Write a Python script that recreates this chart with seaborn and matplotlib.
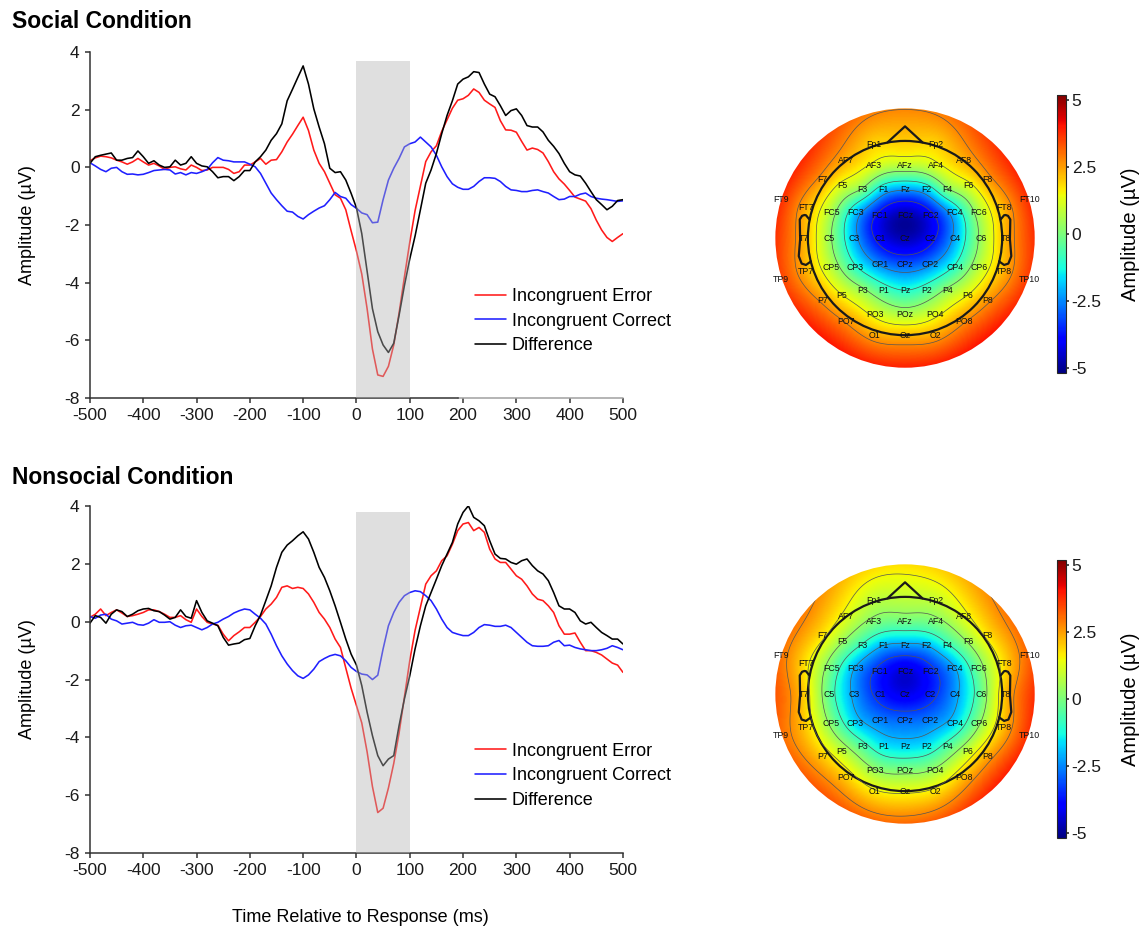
import numpy as np
import pandas as pd
import matplotlib
matplotlib.use('Agg')
import matplotlib.pyplot as plt
import seaborn as sns
from matplotlib.patches import Circle

# ---- ERP waveforms (uV), sampled every 10 ms from -500 to 500 ms ----
times = np.arange(-500, 501, 10)
conds = ['Incongruent Error', 'Incongruent Correct', 'Difference']

social_error = [0.23, 0.33, 0.39, 0.37, 0.33, 0.25, 0.19, 0.11, 0.19, 0.31,
                0.19, 0.08, 0.14, 0.05, -0.07, 0.0, 0.02, -0.05, -0.09, 0.08,
                0.0, -0.11, -0.09, 0.0, 0.0, 0.0, -0.07, -0.21, -0.15, 0.08,
                0.08, 0.19, 0.31, 0.11, 0.25, 0.27, 0.54, 0.88, 1.15, 1.45,
                1.74, 1.28, 0.6, 0.14, -0.15, -0.55, -0.95, -1.07, -1.47, -2.2,
                -2.9, -3.7, -4.9, -6.3, -7.2, -7.25, -6.9, -6.16, -5.05, -3.8,
                -2.6, -1.5, -0.65, 0.2, 0.54, 0.75, 1.25, 1.65, 2.05, 2.33,
                2.38, 2.5, 2.72, 2.6, 2.33, 2.2, 2.08, 1.62, 1.3, 1.29,
                1.22, 0.9, 0.6, 0.67, 0.62, 0.5, 0.2, -0.15, -0.4, -0.58,
                -0.8, -1.03, -1.1, -1.17, -1.43, -1.83, -2.17, -2.43, -2.57, -2.43,
                -2.3]
social_correct = [0.16, 0.05, -0.07, -0.15, -0.03, 0.0, -0.15, -0.24, -0.23, -0.26,
                  -0.24, -0.18, -0.11, -0.09, -0.07, -0.09, -0.23, -0.18, -0.26, -0.18,
                  -0.21, -0.15, -0.07, 0.16, 0.34, 0.25, 0.23, 0.19, 0.19, 0.19,
                  0.11, 0.02, -0.21, -0.55, -0.89, -1.12, -1.33, -1.52, -1.55, -1.7,
                  -1.79, -1.64, -1.52, -1.41, -1.33, -1.12, -0.87, -1.01, -1.07, -1.29,
                  -1.42, -1.58, -1.64, -1.92, -1.9, -1.12, -0.44, -0.03, 0.31, 0.71,
                  0.82, 0.88, 1.05, 0.88, 0.71, 0.42, 0.02, -0.32, -0.57, -0.69,
                  -0.76, -0.76, -0.66, -0.49, -0.36, -0.36, -0.38, -0.49, -0.66, -0.78,
                  -0.8, -0.84, -0.84, -0.8, -0.78, -0.84, -0.89, -1.01, -1.12, -1.1,
                  -1.01, -1.01, -0.93, -0.89, -1.01, -1.07, -1.1, -1.12, -1.15, -1.18,
                  -1.16]
social_diff = [0.14, 0.37, 0.42, 0.46, 0.5, 0.25, 0.25, 0.31, 0.34, 0.57,
               0.37, 0.14, 0.23, 0.08, 0.0, 0.02, 0.25, 0.08, 0.14, 0.37,
               0.14, 0.05, 0.02, -0.15, -0.36, -0.32, -0.32, -0.46, -0.32, -0.11,
               -0.11, 0.19, 0.37, 0.6, 0.94, 1.17, 1.51, 2.31, 2.71, 3.12,
               3.52, 2.89, 2.03, 1.4, 0.82, -0.03, -0.18, -0.15, -0.44, -0.9,
               -1.4, -2.3, -3.6, -4.9, -5.7, -6.16, -6.42, -6.1, -5.13, -4.1,
               -3.18, -2.38, -1.47, -0.55, -0.09, 0.48, 1.17, 1.8, 2.31, 2.89,
               3.06, 3.14, 3.32, 3.29, 2.89, 2.54, 2.45, 2.14, 1.8, 1.97,
               2.03, 1.8, 1.45, 1.4, 1.4, 1.23, 0.94, 0.73, 0.48, 0.14,
               -0.15, -0.26, -0.3, -0.55, -0.84, -1.12, -1.29, -1.47, -1.35, -1.15,
               -1.12]

nonsocial_error = [0.15, 0.26, 0.44, 0.21, 0.32, 0.41, 0.3, 0.18, 0.21, 0.26,
                   0.32, 0.41, 0.41, 0.35, 0.26, 0.15, 0.15, 0.21, 0.07, -0.02,
                   0.44, 0.18, -0.02, -0.08, -0.12, -0.43, -0.66, -0.48, -0.35, -0.2,
                   -0.2, -0.02, 0.18, 0.44, 0.61, 0.84, 1.19, 1.24, 1.15, 1.19,
                   1.15, 0.96, 0.67, 0.32, 0.09, -0.2, -0.6, -0.89, -1.6, -2.3,
                   -2.9, -3.5, -4.5, -5.7, -6.6, -6.45, -5.75, -4.9, -3.85, -2.6,
                   -1.35, -0.3, 0.5, 1.3, 1.59, 1.76, 2.11, 2.28, 2.68, 3.15,
                   3.38, 3.43, 3.15, 3.26, 3.09, 2.51, 2.17, 2.05, 2.05, 1.82,
                   1.59, 1.47, 1.24, 0.96, 0.78, 0.73, 0.55, 0.32, -0.14, -0.43,
                   -0.43, -0.39, -0.71, -1.0, -1.0, -1.06, -1.15, -1.29, -1.43, -1.5,
                   -1.75]
nonsocial_correct = [0.18, 0.12, 0.23, 0.26, 0.09, 0.03, -0.08, -0.05, -0.02, -0.1,
                     -0.12, -0.05, 0.07, -0.02, -0.02, 0.0, -0.12, -0.2, -0.14, -0.12,
                     -0.2, -0.28, -0.2, -0.08, -0.02, 0.09, 0.18, 0.3, 0.38, 0.44,
                     0.41, 0.26, 0.12, -0.08, -0.43, -0.83, -1.18, -1.46, -1.69, -1.87,
                     -1.96, -1.84, -1.64, -1.38, -1.27, -1.18, -1.13, -1.18, -1.35, -1.58,
                     -1.72, -1.81, -1.84, -2.0, -1.85, -0.94, -0.14, 0.32, 0.67, 0.9,
                     1.01, 1.07, 1.04, 0.9, 0.73, 0.44, 0.09, -0.2, -0.37, -0.43,
                     -0.48, -0.48, -0.37, -0.2, -0.1, -0.12, -0.16, -0.16, -0.12, -0.2,
                     -0.37, -0.54, -0.71, -0.83, -0.85, -0.85, -0.83, -0.71, -0.65, -0.83,
                     -0.81, -0.89, -0.94, -0.97, -1.0, -1.0, -0.97, -0.92, -0.83, -0.89,
                     -0.97]
nonsocial_diff = [-0.05, 0.21, 0.15, -0.05, 0.26, 0.41, 0.35, 0.18, 0.26, 0.38,
                  0.44, 0.46, 0.38, 0.35, 0.23, 0.09, 0.15, 0.41, 0.18, 0.12,
                  0.73, 0.32, 0.03, -0.05, -0.14, -0.54, -0.81, -0.77, -0.74, -0.62,
                  -0.58, -0.14, 0.23, 0.73, 1.24, 1.88, 2.4, 2.65, 2.8, 2.97,
                  3.11, 2.86, 2.4, 1.88, 1.53, 1.07, 0.55, -0.02, -0.6, -1.12,
                  -1.5, -2.21, -3.13, -3.94, -4.63, -4.98, -4.75, -4.63, -3.59, -2.67,
                  -1.87, -0.94, -0.14, 0.55, 1.01, 1.47, 1.94, 2.34, 2.74, 3.38,
                  3.78, 4.01, 3.61, 3.49, 3.32, 2.8, 2.34, 2.19, 2.17, 2.05,
                  1.99, 2.11, 2.17, 1.94, 1.76, 1.65, 1.42, 1.01, 0.55, 0.44,
                  0.44, 0.32, 0.03, -0.08, -0.02, -0.2, -0.37, -0.48, -0.6, -0.6,
                  -0.77]

# ---- scalp map values (uV) at each channel, 0-100 ms window ----
chan_names = ['Fp1', 'Fp2',
              'AF7', 'AF3', 'AFz', 'AF4', 'AF8',
              'F7', 'F5', 'F3', 'F1', 'Fz', 'F2', 'F4', 'F6', 'F8',
              'FT9', 'FT7', 'FC5', 'FC3', 'FC1', 'FCz', 'FC2', 'FC4', 'FC6', 'FT8', 'FT10',
              'T7', 'C5', 'C3', 'C1', 'Cz', 'C2', 'C4', 'C6', 'T8',
              'TP9', 'TP7', 'CP5', 'CP3', 'CP1', 'CPz', 'CP2', 'CP4', 'CP6', 'TP8', 'TP10',
              'P7', 'P5', 'P3', 'P1', 'Pz', 'P2', 'P4', 'P6', 'P8',
              'PO7', 'PO3', 'POz', 'PO4', 'PO8',
              'O1', 'Oz', 'O2']
social_topo = [1.9, 1.9,
               2.3, 1.3, 0.9, 1.3, 2.3,
               2.5, 1.2, 0.1, -1.8, -2.3, -1.8, 0.1, 1.2, 2.5,
               3.8, 2.3, 0.6, -1.9, -4.0, -4.8, -4.0, -1.9, 0.6, 2.3, 3.8,
               2.3, 0.4, -2.1, -4.0, -4.7, -4.0, -2.1, 0.4, 2.3,
               3.6, 2.3, 0.8, -1.0, -2.5, -3.0, -2.5, -1.0, 0.8, 2.3, 3.7,
               2.6, 1.5, 0.4, -0.6, -1.1, -0.6, 0.4, 1.5, 2.6,
               2.7, 1.3, 0.7, 1.3, 2.7,
               2.4, 2.2, 2.4]
nonsocial_topo = [0.8, 0.9,
                  1.3, 0.1, -0.1, 0.1, 1.3,
                  1.7, 0.4, -1.0, -2.1, -2.3, -2.1, -1.0, 0.4, 1.7,
                  3.0, 1.7, -0.2, -2.2, -3.6, -4.4, -3.6, -2.2, -0.1, 1.8, 3.2,
                  2.0, -0.4, -2.3, -3.6, -4.2, -3.6, -2.3, -0.3, 2.2,
                  3.1, 2.0, 0.1, -1.7, -2.6, -2.8, -2.6, -1.7, 0.2, 2.2, 3.8,
                  2.0, 0.9, -0.5, -1.5, -1.7, -1.5, -0.5, 1.0, 2.4,
                  2.0, 0.4, 0.1, 0.5, 2.2,
                  1.6, 1.4, 1.7]

# channel layout on the flattened scalp (head radius = 1)
row_layout = [
    (0.96, [('Fp1', -0.32), ('Fp2', 0.32)]),
    (0.80, [('AF7', -0.61), ('AF8', 0.61)]),
    (0.75, [('AF3', -0.32), ('AFz', 0.0), ('AF4', 0.32)]),
    (0.60, [('F7', -0.85), ('F8', 0.85)]),
    (0.54, [('F5', -0.65), ('F6', 0.65)]),
    (0.50, [('F3', -0.44), ('F1', -0.22), ('Fz', 0.0), ('F2', 0.22), ('F4', 0.44)]),
    (0.40, [('FT9', -1.28), ('FT10', 1.28)]),
    (0.31, [('FT7', -1.02), ('FT8', 1.02)]),
    (0.26, [('FC5', -0.76), ('FC3', -0.51), ('FC4', 0.51), ('FC6', 0.76)]),
    (0.23, [('FC1', -0.26), ('FCz', 0.0), ('FC2', 0.26)]),
    (0.0, [('T7', -1.04), ('C5', -0.78), ('C3', -0.52), ('C1', -0.26), ('Cz', 0.0),
           ('C2', 0.26), ('C4', 0.52), ('C6', 0.78), ('T8', 1.04)]),
    (-0.27, [('CP1', -0.26), ('CPz', 0.0), ('CP2', 0.26)]),
    (-0.30, [('CP5', -0.76), ('CP3', -0.51), ('CP4', 0.51), ('CP6', 0.76)]),
    (-0.34, [('TP7', -1.02), ('TP8', 1.02)]),
    (-0.43, [('TP9', -1.28), ('TP10', 1.28)]),
    (-0.54, [('P3', -0.44), ('P1', -0.22), ('Pz', 0.0), ('P2', 0.22), ('P4', 0.44)]),
    (-0.59, [('P5', -0.65), ('P6', 0.65)]),
    (-0.64, [('P7', -0.85), ('P8', 0.85)]),
    (-0.79, [('PO3', -0.31), ('POz', 0.0), ('PO4', 0.31)]),
    (-0.86, [('PO7', -0.61), ('PO8', 0.61)]),
    (-1.0, [('O1', -0.31), ('Oz', 0.0), ('O2', 0.31)]),
]
chan_pos = {}
for yy, row in row_layout:
    for nm, xx in row:
        chan_pos[nm] = (xx, yy)

DISK_R = 1.335

sns.set_theme(style='white')
plt.rcParams['font.family'] = ['Liberation Sans', 'DejaVu Sans']
plt.rcParams['axes.unicode_minus'] = False
plt.rcParams['text.color'] = 'black'
plt.rcParams['axes.labelcolor'] = 'black'

palette = {'Incongruent Error': '#ff1a1a', 'Incongruent Correct': '#1f1fff', 'Difference': '#000000'}


def tps_kernel(d):
    with np.errstate(divide='ignore', invalid='ignore'):
        g = d ** 2 * np.log(d)
    g[d == 0] = 0
    return g


def draw_erp(ax, err, cor, diff, band_top, broken_axis=False):
    df = pd.DataFrame({
        'time': np.tile(times, 3),
        'amp': np.concatenate([err, cor, diff]),
        'cond': np.repeat(conds, len(times)),
    })
    sns.lineplot(data=df, x='time', y='amp', hue='cond', hue_order=conds,
                 palette=palette, linewidth=1.15, estimator=None, ax=ax)
    leg = ax.get_legend()
    handles = leg.legend_handles
    labels = [t.get_text() for t in leg.get_texts()]
    leg.remove()
    ax.legend(handles, labels, loc='upper left', bbox_to_anchor=(0.722, 0.318),
              frameon=False, fontsize=13, handlelength=1.75, handletextpad=0.3,
              labelspacing=0.42, borderpad=0, borderaxespad=0)

    ax.fill_between([0, 100], -8, band_top, color='#b4b4b4', alpha=0.42, lw=0, zorder=5)

    ax.set_xlim(-500, 500)
    ax.set_ylim(-8, 4)
    ax.set_xticks(range(-500, 501, 100))
    ax.set_yticks(range(-8, 5, 2))
    sns.despine(ax=ax)
    for s in ('left', 'bottom'):
        ax.spines[s].set_color('#333333')
        ax.spines[s].set_linewidth(1.1)
    if broken_axis:
        ax.spines['bottom'].set_bounds(-500, 190)
        ax.axhline(-8, xmin=0.69, xmax=1, color='#a0a0a0', lw=1.1, clip_on=False)
    ax.tick_params(direction='out', length=3.5, width=1.1, color='#333333',
                   labelsize=12.5, labelcolor='#1a1a1a', pad=4, bottom=True, left=True)
    ax.set_xlabel('')
    ax.set_ylabel('Amplitude (µV)', fontsize=13, labelpad=20)


def draw_topo(ax, cax, vals):
    xs = np.array([chan_pos[n][0] for n in chan_names])
    ys = np.array([chan_pos[n][1] for n in chan_names])
    v = np.asarray(vals, dtype=float)
    n = len(v)
    # thin-plate spline with linear trend, lightly smoothed
    d = np.hypot(xs[:, None] - xs[None, :], ys[:, None] - ys[None, :])
    P = np.column_stack([np.ones(n), xs, ys])
    A = np.zeros((n + 3, n + 3))
    A[:n, :n] = tps_kernel(d) + 1e-3 * np.eye(n)
    A[:n, n:] = P
    A[n:, :n] = P.T
    sol = np.linalg.solve(A, np.concatenate([v, np.zeros(3)]))
    w, a = sol[:n], sol[n:]

    g = np.linspace(-DISK_R, DISK_R, 241)
    GX, GY = np.meshgrid(g, g)
    dg = np.hypot(GX.ravel()[:, None] - xs[None, :], GY.ravel()[:, None] - ys[None, :])
    Z = (tps_kernel(dg) @ w + a[0] + a[1] * GX.ravel() + a[2] * GY.ravel()).reshape(GX.shape)

    clip = Circle((0, 0), DISK_R, transform=ax.transData)
    im = ax.imshow(Z, origin='lower', extent=[-DISK_R, DISK_R, -DISK_R, DISK_R],
                   cmap='jet', vmin=-5.2, vmax=5.2, interpolation='bilinear')
    im.set_clip_path(clip)
    inside = np.hypot(GX, GY) <= DISK_R
    levels = np.linspace(Z[inside].min(), Z[inside].max(), 8)[1:-1]
    cs = ax.contour(GX, GY, Z, levels=levels, colors='#555555', linewidths=0.5,
                    linestyles='solid')
    cs.set_clip_path(Circle((0, 0), DISK_R, transform=ax.transData))

    # head outline, nose and ears
    ax.add_patch(Circle((0, 0), 1.0, fill=False, lw=1.6, color='k'))
    ax.plot([-0.18, 0.0, 0.18], [0.985, 1.15, 0.985], color='k', lw=1.6)
    ear_x = np.array([0.984, 1.02, 1.036, 1.06, 1.084, 1.08, 1.094, 1.064, 1.02, 0.968])
    ear_y = np.array([0.191, 0.235, 0.237, 0.229, 0.191, -0.011, -0.186, -0.263, -0.277, -0.240])
    ax.plot(ear_x, ear_y, color='k', lw=1.6)
    ax.plot(-ear_x, ear_y, color='k', lw=1.6)

    for nm, x, y in zip(chan_names, xs, ys):
        ax.text(x, y, nm, fontsize=6.3, ha='center', va='center', color='#111111')

    ax.set_xlim(-1.4, 1.4)
    ax.set_ylim(-1.4, 1.4)
    ax.set_aspect('equal')
    ax.axis('off')

    cb = plt.colorbar(im, cax=cax, ticks=[-5, -2.5, 0, 2.5, 5])
    cb.ax.set_yticklabels(['-5', '-2.5', '0', '2.5', '5'])
    cb.ax.tick_params(labelsize=12.5, length=2, pad=2, color='#333333', labelcolor='#1a1a1a')
    cb.outline.set_linewidth(0.8)
    cb.set_label('Amplitude (µV)', fontsize=14.5, labelpad=14)


fig = plt.figure(figsize=(11.43, 9.33), dpi=100)
fig.patch.set_facecolor('white')

ax_top = fig.add_axes([0.0787, 0.5734, 0.4663, 0.3708])
ax_bot = fig.add_axes([0.0787, 0.0857, 0.4663, 0.3719])
draw_erp(ax_top, social_error, social_correct, social_diff, 3.7, broken_axis=True)
draw_erp(ax_bot, nonsocial_error, nonsocial_correct, nonsocial_diff, 3.8)

topo_top = fig.add_axes([0.6728, 0.5991, 0.2380, 0.2915])
topo_bot = fig.add_axes([0.6728, 0.1104, 0.2380, 0.2915])
cax_top = fig.add_axes([0.9248, 0.6002, 0.0079, 0.2980])
cax_bot = fig.add_axes([0.9248, 0.1018, 0.0079, 0.2980])
draw_topo(topo_top, cax_top, social_topo)
draw_topo(topo_bot, cax_bot, nonsocial_topo)

fig.text(12 / 1143, 1 - 22 / 933, 'Social Condition', fontsize=16.5, fontweight='bold',
         ha='left', va='center')
fig.text(12 / 1143, 1 - 477 / 933, 'Nonsocial Condition', fontsize=16.5, fontweight='bold',
         ha='left', va='center')
fig.text(360 / 1143, 1 - 917 / 933, 'Time Relative to Response (ms)', fontsize=13,
         ha='center', va='center')

fig.savefig('out.png', dpi=100, facecolor='white')
